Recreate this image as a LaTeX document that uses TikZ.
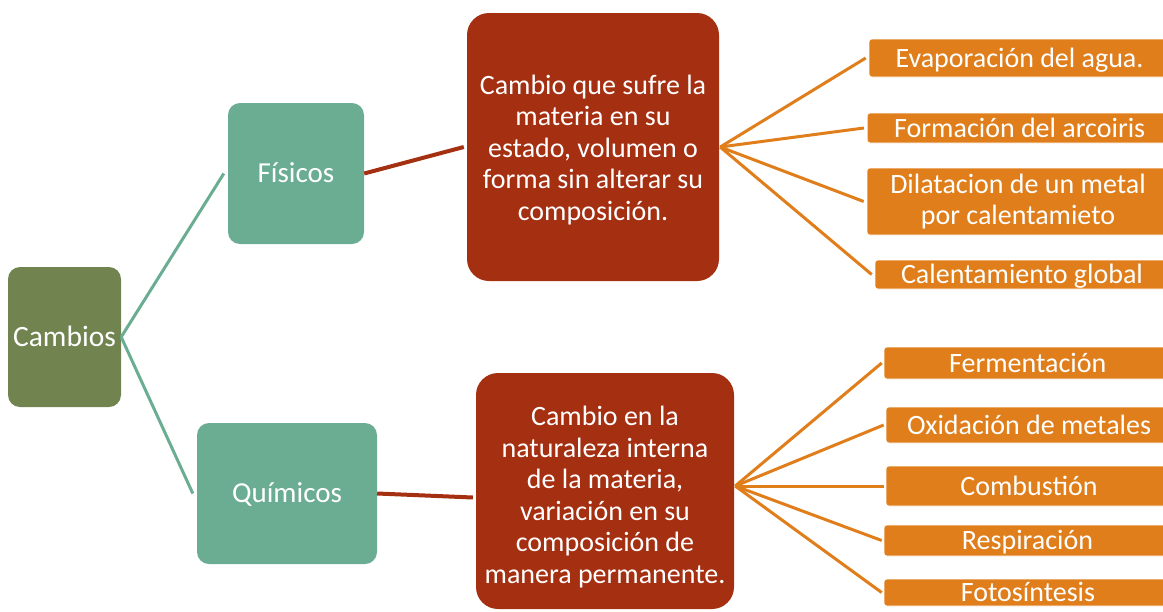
\documentclass[tikz,border=0pt]{standalone}
\usepackage{fontspec}
\setmainfont{Carlito}
\definecolor{cOlive}{HTML}{71844F}
\definecolor{cTeal}{HTML}{6AAD92}
\definecolor{cRed}{HTML}{A52F11}
\definecolor{cOrange}{HTML}{DF7E1B}
\begin{document}
\begin{tikzpicture}[x=1pt,y=-1pt,
  every node/.style={font=\fontsize{28}{31.5}\selectfont, text=white, inner sep=0pt},
  one/.style={text height=20pt, text depth=2pt},
  rootbox/.style={one, fill=cOlive, rounded corners=12pt, font=\fontsize{29.5}{31.5}\selectfont},
  tealbox/.style={one, fill=cTeal, rounded corners=12pt, font=\fontsize{29}{31.5}\selectfont},
  redbox/.style={fill=cRed, rounded corners=22pt},
  orbox/.style={fill=cOrange, draw=white, line width=0.6pt, rounded corners=3pt},
  tealline/.style={draw=cTeal, line width=3pt},
  redline/.style={draw=cRed, line width=4pt},
  orline/.style={draw=cOrange, line width=3pt}]
\useasboundingbox (0,0) rectangle (1163,611);
\clip (0,0) rectangle (1163,611);

\node[rootbox, minimum width=113pt, minimum height=140pt] (cambios) at (64.5,337) {Cambios};
\node[tealbox, minimum width=136pt, minimum height=141pt] (fisicos) at (296,173.5) {Físicos};
\node[tealbox, minimum width=180pt, minimum height=141pt] (quimicos) at (287,493.5) {Químicos};

\node[redbox, minimum width=252pt, minimum height=268pt] (red1) at (593,147) {};
\node[align=center] (red1t) at (593,150)
  {Cambio que sufre la\\materia en su\\estado, volumen o\\forma sin alterar su\\composición.};
\node[redbox, minimum width=258pt, minimum height=236pt] (red2) at (605,491) {};
\node[align=center] (red2t) at (605,497)
  {Cambio en la\\naturaleza interna\\de la materia,\\variación en su\\composición de\\manera permanente.};

\node[orbox, one, minimum width=301pt, minimum height=38pt] (o1) at (1019.5,58) {Evaporación del agua.};
\node[orbox, one, minimum width=305pt, minimum height=30pt] (o2) at (1019.7,128) {Formación del arcoiris};
\node[orbox, minimum width=302pt, minimum height=67pt, align=center] (o3) at (1018,201.5) {Dilatacion de un metal\\por calentamieto};
\node[orbox, one, minimum width=294pt, minimum height=29pt] (o4) at (1022,274.5) {Calentamiento global};

\node[orbox, one, minimum width=287.4pt, minimum height=32pt] (b1) at (1027.7,363) {Fermentación};
\node[orbox, one, minimum width=286pt, minimum height=36pt] (b2) at (1029,425) {Oxidación de metales};
\node[orbox, one, minimum width=286pt, minimum height=40pt] (b3) at (1029,486) {Combustión};
\node[orbox, one, minimum width=287pt, minimum height=31pt] (b4) at (1027.5,540.5) {Respiración};
\node[orbox, one, minimum width=288pt, minimum height=27pt] (b5) at (1028,592.5) {Fotosíntesis};

\coordinate (hub1) at ([xshift=1pt]red1.east);
\coordinate (hub2) at ([xshift=1pt,yshift=5pt]red2.east);

\draw[tealline] (cambios.east) -- ([xshift=-4pt]fisicos.west);
\draw[tealline] (cambios.east) -- ([xshift=-4pt]quimicos.west);
\draw[redline] (fisicos.east) -- ([xshift=-3pt]red1.west);
\draw[redline] (quimicos.east) -- ([xshift=-3pt,yshift=-4pt]red2.west |- quimicos.east);

\foreach \n in {o1,o2,o3,o4} \draw[orline] (hub1) -- ([xshift=-3pt]\n.west);
\foreach \n in {b1,b2,b3,b4,b5} \draw[orline] (hub2) -- ([xshift=-2pt]\n.west);
\end{tikzpicture}
\end{document}
